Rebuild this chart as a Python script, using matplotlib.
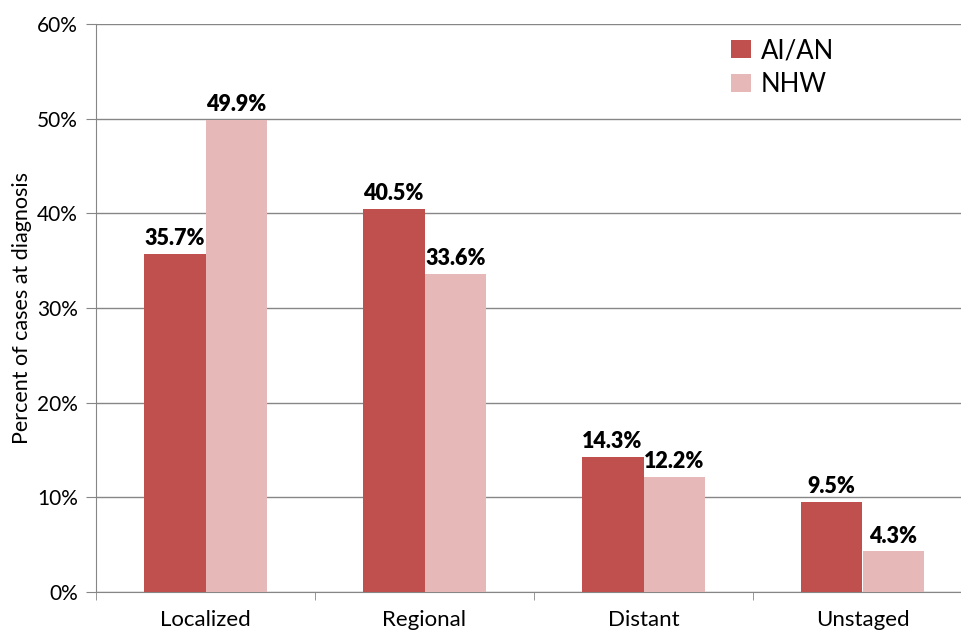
import numpy as np
import matplotlib.pyplot as plt
from matplotlib.ticker import FuncFormatter, FixedLocator

categories = ["Localized", "Regional", "Distant", "Unstaged"]
aian = [35.7, 40.5, 14.3, 9.5]
nhw = [49.9, 33.6, 12.2, 4.3]
series_names = ["AI/AN", "NHW"]
colors = ["#C0504D", "#E6B9B8"]

plt.rcParams['font.family'] = ['Lato', 'DejaVu Sans']

W, H = 962, 634
fig = plt.figure(figsize=(W / 100, H / 100), dpi=100)
# plot area runs a little past the right edge, as in the original
ax = fig.add_axes([96 / W, 42 / H, 876 / W, 568 / H])

x = np.arange(len(categories))
bw = 0.283
b1 = ax.bar(x - bw / 2, aian, bw, color=colors[0], label=series_names[0], zorder=3)
b2 = ax.bar(x + bw / 2, nhw, bw, color=colors[1], label=series_names[1], zorder=3)

for bars, vals in [(b1, aian), (b2, nhw)]:
    for r, v in zip(bars, vals):
        ax.text(r.get_x() + r.get_width() / 2, v + 0.5, f"{v:.1f}%",
                ha="center", va="bottom", fontsize=15.5, fontweight="heavy")

ax.set_xlim(-0.5, len(categories) - 0.5)
ax.set_ylim(0, 60)
ax.set_yticks(np.arange(0, 61, 10))
ax.yaxis.set_major_formatter(FuncFormatter(lambda v, p: f"{v:.0f}%"))
ax.yaxis.grid(True, color="#868686", linewidth=1, zorder=0)

ax.set_xticks(x)
ax.set_xticklabels(categories, fontsize=16)
ax.tick_params(axis="x", length=0, pad=13)
ax.xaxis.set_minor_locator(FixedLocator(np.arange(-0.5, len(categories), 1)))
ax.tick_params(axis="x", which="minor", length=6, color="#868686")
ax.tick_params(axis="y", length=7, color="#868686", labelsize=15, pad=6)

for s in ["top", "right"]:
    ax.spines[s].set_visible(False)
for s in ["left", "bottom"]:
    ax.spines[s].set_color("#868686")

ax.set_ylabel("Percent of cases at diagnosis", fontsize=15.5, labelpad=4)

ax.legend(loc="upper left", bbox_to_anchor=(0.699, 1.016), frameon=False,
          fontsize=18.5, handlelength=0.75, handleheight=0.75, handletextpad=0.4,
          labelspacing=0.35)

fig.savefig("out.png", dpi=100)
